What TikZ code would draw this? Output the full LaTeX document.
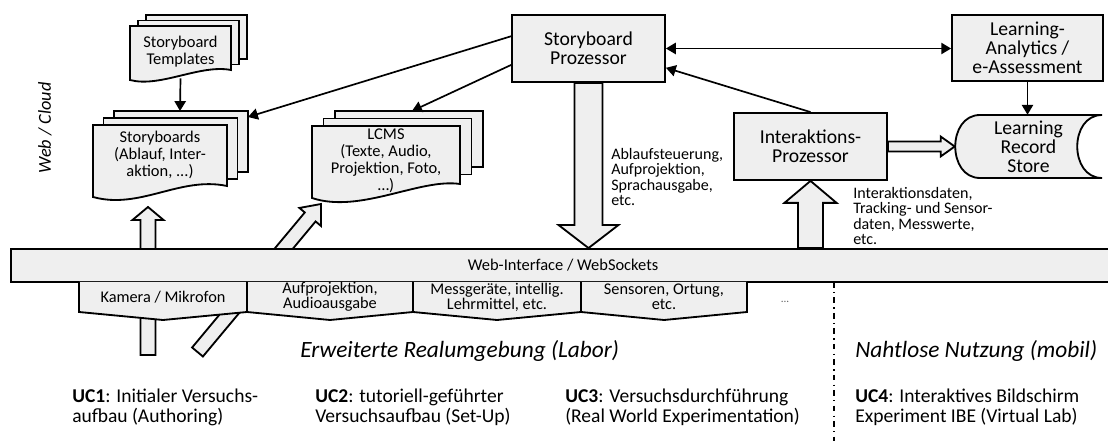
\documentclass[tikz,border=0pt]{standalone}
\usepackage{fontspec}
\setmainfont{Carlito}
\usetikzlibrary{arrows.meta, calc, backgrounds}

\definecolor{boxgray}{RGB}{239,239,239}

\tikzset{
  box/.style={draw, line width=1.3pt, fill=boxgray, align=center, inner sep=0pt,
              font=\fontsize{14}{13.4}\selectfont},
  sheet/.style={draw, line width=1.3pt, fill=boxgray, line join=miter},
  sheettext/.style={align=center, inner sep=0pt, font=\fontsize{11.7}{12}\selectfont},
  tabtext/.style={align=center, inner sep=0pt, font=\fontsize{11.6}{10.8}\selectfont},
  note/.style={align=left, anchor=west, inner sep=0pt, font=\fontsize{11.4}{11}\selectfont},
  usecase/.style={align=left, anchor=west, inner sep=0pt, font=\fontsize{13.9}{14.2}\selectfont},
  region/.style={anchor=west, inner sep=0pt, font=\fontsize{16.6}{18}\selectfont\itshape},
  link/.style={line width=1.2pt, ->},
  fatarrow/.style args={#1/#2/#3}{draw, line width=1.3pt, fill=boxgray, line join=miter,
    to path={
      ($(\tikztostart)!#1!90:(\tikztotarget)$) --
      ($(\tikztotarget)!#3!(\tikztostart)!#1!90:(\tikztotarget)$) --
      ($(\tikztotarget)!#3!(\tikztostart)!#2!90:(\tikztotarget)$) --
      (\tikztotarget) --
      ($(\tikztotarget)!#3!(\tikztostart)!#2!-90:(\tikztotarget)$) --
      ($(\tikztotarget)!#3!(\tikztostart)!#1!-90:(\tikztotarget)$) --
      ($(\tikztostart)!#1!-90:(\tikztotarget)$) -- cycle}}
}

\begin{document}
\begin{tikzpicture}[x=0.25mm, y=-0.25mm, >={Triangle[length=7pt, width=8pt]}]

    \useasboundingbox (0,0) rectangle (1108,441);

    % Web / Cloud
    \node[rotate=90, inner sep=0pt, font=\fontsize{13}{14}\selectfont\itshape] (cloud) at (45,128) {Web / Cloud};

    % Storyboard Templates
    \foreach \d in {2,1}
        \draw[sheet] (130+8*\d,26-5.5*\d) rectangle (231+8*\d,70-5.5*\d);
    \draw[sheet] (130,26) -- (231,26) -- (231,70) .. controls (200,64) and (160,88) .. (130,80) -- cycle;
    \node[sheettext, minimum width=25.25mm, minimum height=13mm] (tpl) at (180.5,52) {Storyboard\\Templates};

    % Storyboards
    \foreach \d in {2,1}
        \draw[sheet] (93+10.5*\d,125-7*\d) rectangle (227+10.5*\d,186-7*\d);
    \draw[sheet] (93,125) -- (227,125) -- (227,186) .. controls (180,176) and (140,210) .. (93,197) -- cycle;
    \node[sheettext] (sbs) at (160,155) {Storyboards\\(Ablauf, Inter-\\aktion, ...)};

    % LCMS
    \foreach \d in {2,1}
        \draw[sheet] (312+11.5*\d,126-7.5*\d) rectangle (460+11.5*\d,182-7.5*\d);
    \draw[sheet] (312,126) -- (460,126) -- (460,184) .. controls (420,178) and (360,214) .. (312,198) -- cycle;
    \node[sheettext] (lcms) at (386,161) {LCMS\\(Texte, Audio,\\Projektion, Foto,\\…)};

    % Boxes
    \node[box, minimum width=38.25mm, minimum height=16.75mm] (sbp) at (588.5,48.5) {Storyboard\\Prozessor};
    \node[box, minimum width=37.75mm, minimum height=16.5mm] (la) at (1027.5,48) {Learning-\\Analytics /\\e-Assessment};
    \node[box, minimum width=38.25mm, minimum height=16.75mm] (ip) at (810.5,146.5) {Interaktions-\\Prozessor};

    % Learning Record Store
    \draw[sheet] (980,115) -- (1102,115) .. controls (1069,115) and (1069,178) .. (1102,178)
        -- (980,178) .. controls (947,178) and (947,115) .. (980,115) -- cycle;
    \node[align=center, inner sep=0pt, font=\fontsize{14}{13.4}\selectfont,
          minimum width=36.75mm, minimum height=15.75mm] (lrs) at (1028.5,146.5) {Learning\\Record\\Store};

    % Web-Interface bar
    \node[box, minimum width=276mm, minimum height=8.25mm, font=\fontsize{11.7}{12}\selectfont] (web) at (563,265.5) {Web-Interface / WebSockets};

    % Tabs
    \foreach \a/\b in {79/247, 247/413, 413/581, 581/747}
        \draw[sheet] (\a,282) -- (\a,312) -- ({(\a+\b)/2},320) -- (\b,312) -- (\b,282);
    \node[tabtext] (cam) at (163,297) {Kamera / Mikrofon};
    \node[tabtext] (proj) at (330,297) {Aufprojektion,\\Audioausgabe};
    \node[tabtext] (mess) at (497,297) {Messgeräte, intellig.\\Lehrmittel, etc.};
    \node[tabtext] (sens) at (664,297) {Sensoren, Ortung,\\etc.};
    \node[inner sep=0pt, font=\fontsize{8}{8}\selectfont, text=black!60] (more) at (785,302) {...};

    % Arrow ends
    \coordinate (sbsback) at (180,111);
    \coordinate (sbsside) at (248,117);
    \coordinate (lcmsback) at (412,111);
    \coordinate (sbpdown) at (sbp.south |- web.north);
    \coordinate (ipup) at (ip.south |- web.north);
    \coordinate (camtail) at (148,355);
    \coordinate (camtip) at (148,207);
    \coordinate (diagtail) at (197.5,352);
    \coordinate (diagtip) at (321,204);

    % Connectors
    \draw[link] (tpl.south) -- (sbsback);
    \draw[link] (sbp.171) -- (sbsside);
    \draw[link] (sbp.192) -- (lcmsback);
    \draw[link, <->] (sbp.east) -- (sbp.east -| la.west);
    \draw[link] (ip.north) -- (sbp.-14);
    \draw[link] (la.south) -- (la.south |- lrs.north);

    % Hollow arrows
    \begin{scope}[on background layer]
        \draw[fatarrow=10pt/21.3pt/16.4pt] (sbp.south) to (sbpdown);
        \draw[fatarrow=8.9pt/18.5pt/15.6pt] (ipup) to (ip.south);
        \draw[fatarrow=3.6pt/7.1pt/10pt] (ip.east) to (lrs.west);
        \draw[fatarrow=5.3pt/11pt/9.2pt] (camtail) to (camtip);
        \draw[fatarrow=5pt/10pt/12pt] (diagtail) to (diagtip);
    \end{scope}

    % Labels
    \node[note] (ctrl) at (611,177) {Ablaufsteuerung,\\Aufprojektion,\\Sprachausgabe,\\etc.};
    \node[note] (data) at (853,216) {Interaktionsdaten,\\Tracking- und Sensor-\\daten, Messwerte,\\etc.};

    % Separator
    \draw[line width=1.2pt, dash pattern=on 4pt off 3pt on 1pt off 3pt] (834,282) -- (834,441);

    % Regions
    \node[region] (lab) at (300,351) {Erweiterte Realumgebung (Labor)};
    \node[region] (mobil) at (855,351) {Nahtlose Nutzung (mobil)};

    % Use cases
    \node[usecase] (uc1) at (72,407) {\textbf{UC1}: Initialer Versuchs-\\aufbau (Authoring)};
    \node[usecase] (uc2) at (315,407) {\textbf{UC2}: tutoriell-geführter\\Versuchsaufbau (Set-Up)};
    \node[usecase] (uc3) at (565,407) {\textbf{UC3}: Versuchsdurchführung\\(Real World Experimentation)};
    \node[usecase] (uc4) at (855,407) {\textbf{UC4}: Interaktives Bildschirm\\Experiment IBE (Virtual Lab)};

\end{tikzpicture}
\end{document}
